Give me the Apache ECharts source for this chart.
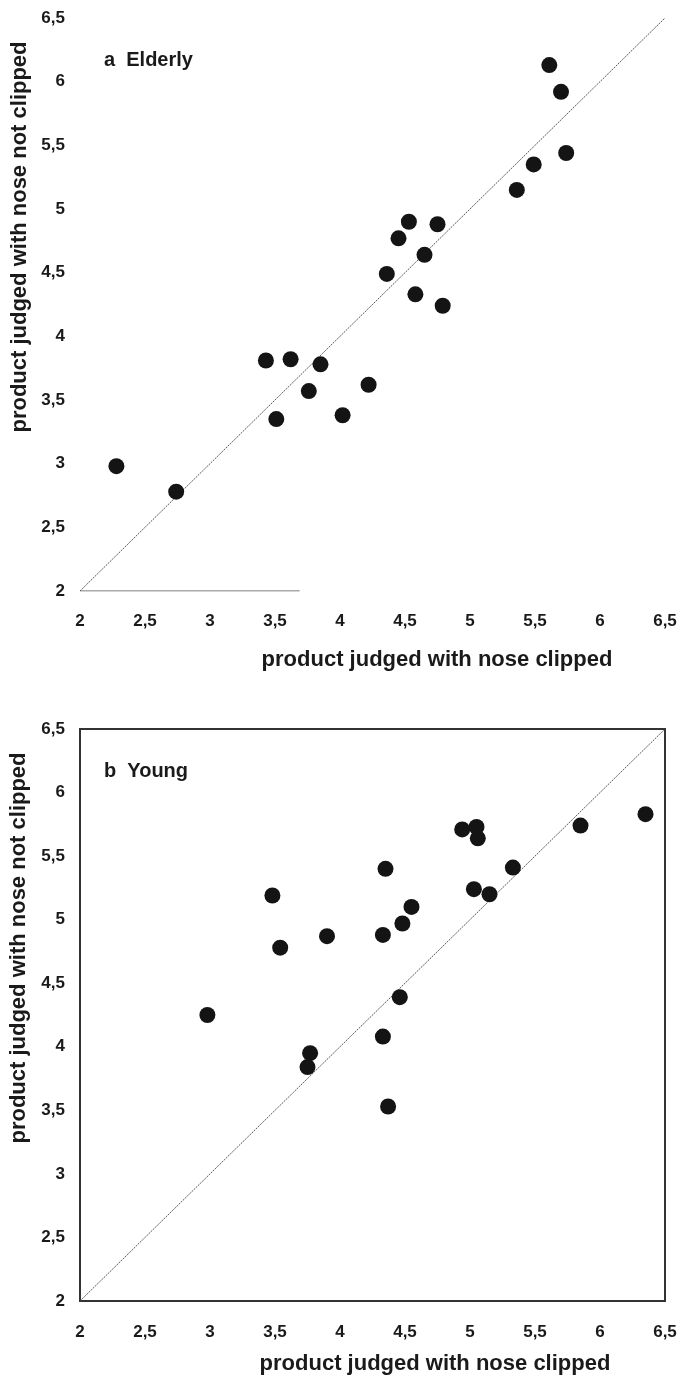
<!DOCTYPE html>
<html>
<head>
<meta charset="utf-8">
<script src="https://cdn.jsdelivr.net/npm/echarts@6/dist/echarts.min.js"></script>
<style>
html,body{margin:0;padding:0;background:#fff;}
#chart{width:682px;height:1380px;}
</style>
</head>
<body>
<div id="chart"></div>
<script>
// ---- data ----
const panelTitles = ['a  Elderly', 'b  Young'];
const xAxisTitle = 'product judged with nose clipped';
const yAxisTitle = 'product judged with nose not clipped';
const axisMin = 2, axisMax = 6.5, axisStep = 0.5;

const elderlyX = [5.61, 5.70, 5.74, 5.49, 5.36, 4.53, 4.75, 4.45, 4.65, 4.36, 4.58, 4.79,
                  3.43, 3.62, 3.85, 3.76, 4.22, 3.51, 4.02, 2.28, 2.74];
const elderlyY = [6.13, 5.92, 5.44, 5.35, 5.15, 4.90, 4.88, 4.77, 4.64, 4.49, 4.33, 4.24,
                  3.81, 3.82, 3.78, 3.57, 3.62, 3.35, 3.38, 2.98, 2.78];

const youngX = [6.35, 5.85, 4.94, 5.05, 5.06, 5.33, 4.35, 5.03, 5.15, 3.48, 4.55, 4.48,
                4.33, 3.90, 3.54, 4.46, 2.98, 4.33, 3.77, 3.75, 4.37];
const youngY = [5.83, 5.74, 5.71, 5.73, 5.64, 5.41, 5.40, 5.24, 5.20, 5.19, 5.10, 4.97,
                4.88, 4.87, 4.78, 4.39, 4.25, 4.08, 3.95, 3.84, 3.53];

const identityLine = [2, 6.5];
// stray partial base line seen in panel a
const strayBaseX = [2, 3.69];
const strayBaseY = [2, 2];

// ---- chart ----
const FONT = '"Liberation Sans", Arial, sans-serif';
const TXT = '#1a1a1a';
const DOT = '#141414';
const pair = (xs, ys) => xs.map((v, i) => [v, ys[i]]);

function axisCommon(idx, margin) {
  return {
    gridIndex: idx, type: 'value', min: axisMin, max: axisMax, interval: axisStep,
    axisTick: {show: false}, splitLine: {show: false},
    axisLine: {show: false},
    axisLabel: {
      color: TXT, fontFamily: FONT, fontWeight: 'bold', fontSize: 17, margin: margin,
      formatter: v => String(v).replace('.', ',')
    }
  };
}

const diagStyle = {color: '#444', width: 0.9, type: [2, 1]};

function textEl(str, x, y, size, rot, align) {
  return {
    type: 'text', x: x, y: y, rotation: rot || 0,
    style: {text: str, x: 0, y: 0, font: 'bold ' + size + 'px ' + FONT,
            fill: TXT, align: align || 'center', verticalAlign: 'middle'}
  };
}

const option = {
  backgroundColor: '#fff',
  animation: false,
  grid: [
    {left: 80, top: 18, width: 585, height: 573, show: false},
    {left: 80, top: 729, width: 585, height: 572, show: true,
     borderColor: '#333', borderWidth: 2, backgroundColor: 'transparent'}
  ],
  xAxis: [axisCommon(0, 22), axisCommon(1, 23)],
  yAxis: [axisCommon(0, 15), axisCommon(1, 15)],
  graphic: [
    textEl(panelTitles[0], 104, 60, 20, 0, 'left'),
    textEl(panelTitles[1], 104, 771, 20, 0, 'left'),
    textEl(xAxisTitle, 437, 660, 22, 0),
    textEl(xAxisTitle, 435, 1364, 22, 0),
    textEl(yAxisTitle, 20, 237, 22, Math.PI / 2),
    textEl(yAxisTitle, 19, 948, 22, Math.PI / 2)
  ],
  series: [
    {type: 'line', xAxisIndex: 0, yAxisIndex: 0, data: pair(identityLine, identityLine),
     symbol: 'none', lineStyle: diagStyle, silent: true, z: 1},
    {type: 'line', xAxisIndex: 0, yAxisIndex: 0, data: pair(strayBaseX, strayBaseY),
     symbol: 'none', lineStyle: {color: '#555', width: 1}, silent: true, z: 1},
    {type: 'scatter', xAxisIndex: 0, yAxisIndex: 0, data: pair(elderlyX, elderlyY),
     symbolSize: 16, itemStyle: {color: DOT, opacity: 1}, z: 3},
    {type: 'line', xAxisIndex: 1, yAxisIndex: 1, data: pair(identityLine, identityLine),
     symbol: 'none', lineStyle: diagStyle, silent: true, z: 1},
    {type: 'scatter', xAxisIndex: 1, yAxisIndex: 1, data: pair(youngX, youngY),
     symbolSize: 16, itemStyle: {color: DOT, opacity: 1}, z: 3}
  ]
};

const chart = echarts.init(document.getElementById('chart'), null, {renderer: 'canvas'});
chart.setOption(option);
</script>
</body>
</html>
